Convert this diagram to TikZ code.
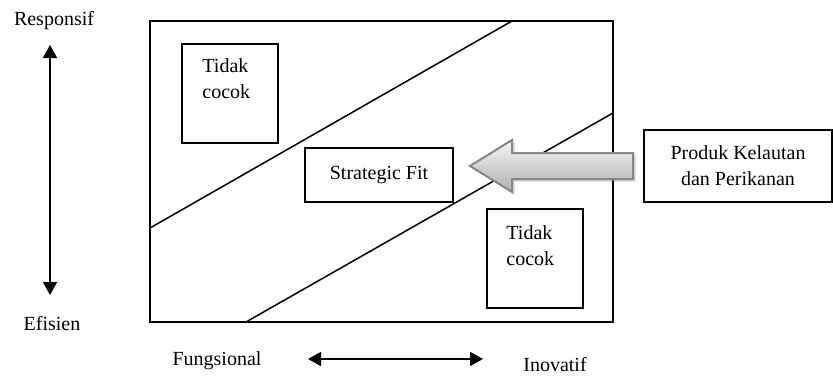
\documentclass[tikz,border=0pt]{standalone}
\usepackage{fontspec}
\setmainfont{Liberation Serif}
\usetikzlibrary{arrows.meta,shadows}
\tikzset{
  box/.style={draw, line width=1.5pt, inner sep=0pt},
  lbl/.style={font=\fontsize{20}{26}\selectfont, inner sep=0pt, align=center},
  axis/.style={line width=1.5pt, {Triangle[width=14pt,length=13pt]}-{Triangle[width=14pt,length=13pt]}},
  bigarrow/.style={draw=gray!95, line width=2pt, line join=miter, top color=gray!8, bottom color=gray!62,
    drop shadow={shadow xshift=2.5pt, shadow yshift=-2.5pt, opacity=0.35}},
}
\begin{document}
\begin{tikzpicture}[x=1pt,y=-1pt]
   \useasboundingbox (0,0) rectangle (833,375);

   \node[draw, line width=2pt, inner sep=0pt, minimum width=463pt, minimum height=301pt] (frame) at (381.5,171.5) {};

   \coordinate (u1) at (150,228);
   \coordinate (u2) at (512,21);
   \coordinate (l1) at (246,322);
   \coordinate (l2) at (613,113);
   \draw[line width=1.5pt] (u1) -- (u2);
   \draw[line width=1.5pt] (l1) -- (l2);

   \node[box, minimum width=96pt, minimum height=99pt] (tc1) at (230,93.5) {};
   \node[lbl, anchor=north west, align=left] (tc1txt) at ([shift={(21,15)}]tc1.north west) {Tidak\\cocok};
   \node[box, minimum width=96pt, minimum height=99pt] (tc2) at (535,258.5) {};
   \node[lbl, anchor=north west, align=left] (tc2txt) at ([shift={(20,17)}]tc2.north west) {Tidak\\cocok};

   \node[box, lbl, minimum width=148pt, minimum height=54pt] (fit) at (379,175) {Strategic Fit};
   \node[box, lbl, minimum width=188pt, minimum height=72pt] (produk) at (738,166) {Produk Kelautan\\dan Perikanan};

   \path[bigarrow] (633,153) -- (512,153) -- (512,140) -- (470,166) -- (512,192) -- (512,179) -- (633,179) -- cycle;

   \node[lbl, anchor=base] (resp) at (54,25) {Responsif};
   \node[lbl, anchor=base] (efis) at (52,330) {Efisien};
   \node[lbl, anchor=base] (fung) at (217,365) {Fungsional};
   \node[lbl, anchor=base] (inov) at (555,371) {Inovatif};

   \coordinate (vtop) at (50,45);
   \coordinate (vbot) at (50,295);
   \coordinate (hleft) at (308,359);
   \coordinate (hright) at (483,359);
   \draw[axis] (vtop) -- (vbot);
   \draw[axis] (hleft) -- (hright);
\end{tikzpicture}
\end{document}
